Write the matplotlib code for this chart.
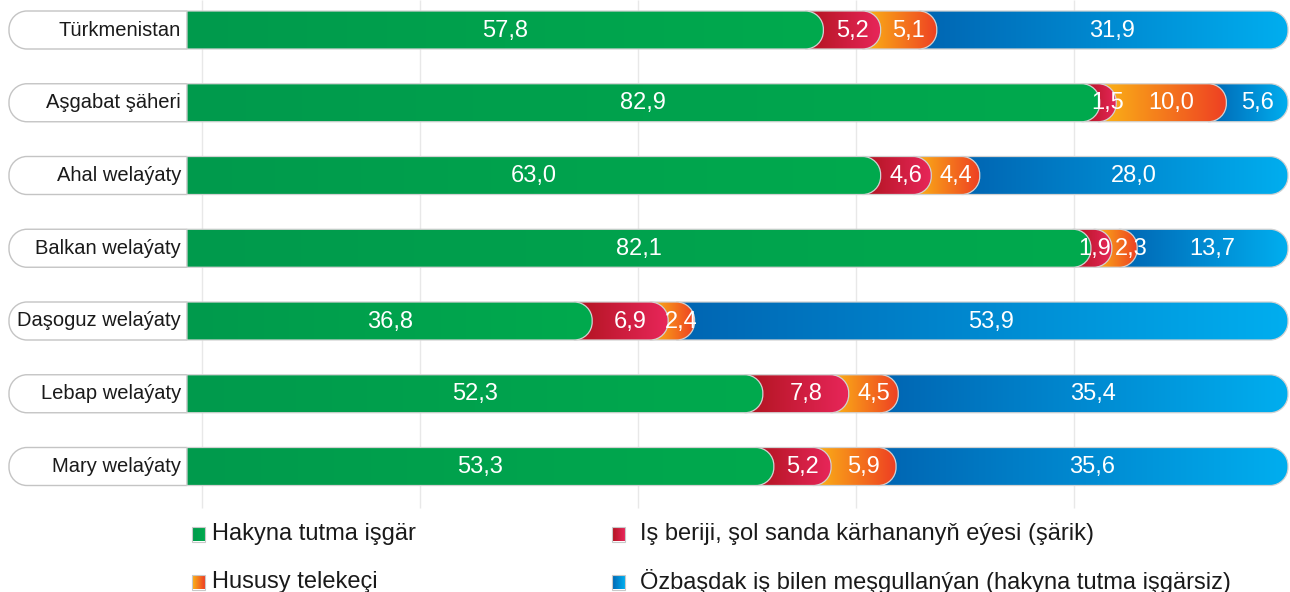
import numpy as np
import matplotlib
matplotlib.use("Agg")
import matplotlib.pyplot as plt
from matplotlib.path import Path
from matplotlib.patches import PathPatch
from matplotlib.colors import LinearSegmentedColormap

plt.rcParams['font.family'] = ['Liberation Sans', 'DejaVu Sans']

# data
regions = ["Türkmenistan", "Aşgabat şäheri", "Ahal welaýaty", "Balkan welaýaty",
           "Daşoguz welaýaty", "Lebap welaýaty", "Mary welaýaty"]
hakyna = [57.8, 82.9, 63.0, 82.1, 36.8, 52.3, 53.3]
is_berij = [5.2, 1.5, 4.6, 1.9, 6.9, 7.8, 5.2]
hususy = [5.1, 10.0, 4.4, 2.3, 2.4, 4.5, 5.9]
ozbasdak = [31.9, 5.6, 28.0, 13.7, 53.9, 35.4, 35.6]
legend_names = ["Hakyna tutma işgär", "Iş beriji, şol sanda kärhananyň eýesi (şärik)",
                "Hususy telekeçi", "Özbaşdak iş bilen meşgullanýan (hakyna tutma işgärsiz)"]

series = [hakyna, is_berij, hususy, ozbasdak]
# gradient colours (left -> right) for each series
grads = [("#009a4c", "#00aa4e"), ("#b0141f", "#e8265a"),
         ("#fbb616", "#ee3f23"), ("#0065b2", "#00aeef")]

PX_X = 11.01   # pixels per percent
PX_Y = 72.75   # pixels per row
H = 38 / PX_Y
RX = 18 / PX_X
RY = 18 / PX_Y
MIN_GAP = 3.3  # min distance between neighbouring value labels (percent units)


def rounded(x0, x1, yc, h, rx, ry, left=False):
    k = 0.5523
    top, bot = yc - h / 2, yc + h / 2
    verts = [(x0, top), (x1 - rx, top), (x1 - rx + k * rx, top), (x1, top + ry - k * ry),
             (x1, top + ry), (x1, bot - ry), (x1, bot - ry + k * ry), (x1 - rx + k * rx, bot),
             (x1 - rx, bot), (x0, bot), (x0, top)]
    codes = [Path.MOVETO, Path.LINETO, Path.CURVE4, Path.CURVE4, Path.CURVE4, Path.LINETO,
             Path.CURVE4, Path.CURVE4, Path.CURVE4, Path.LINETO, Path.CLOSEPOLY]
    if left:
        verts = [(x0 + x1 - x, y) for x, y in verts]
    return Path(verts, codes)


gradient = np.linspace(0, 1, 256).reshape(1, -1)
cmaps = [LinearSegmentedColormap.from_list("g%d" % i, g) for i, g in enumerate(grads)]

fig = plt.figure(figsize=(12.9, 5.92), dpi=100)
ax = fig.add_axes([0, 0, 1, 1])
ax.axis('off')

# light vertical grid
grid_x = np.arange(15 / PX_X, 100, 19.8)
ax.vlines(grid_x, -30 / PX_Y, (508 - 30) / PX_Y, color="#e8e8e8", lw=1, zorder=0)

for i, name in enumerate(regions):
    # label box
    box = PathPatch(rounded(-178 / PX_X, 0, i, H, RX, RY, left=True),
                    facecolor="white", edgecolor="#c4c4c4", lw=1, zorder=2)
    ax.add_patch(box)
    ax.text(-6 / PX_X, i, name, ha="right", va="center", fontsize=14.5, color="#1a1a1a", zorder=3)

    vals = [s[i] for s in series]
    starts = np.concatenate([[0], np.cumsum(vals)[:-1]])
    for j in range(3, -1, -1):
        x0 = starts[j]
        x1 = starts[j] + vals[j]
        left = 0 if j == 0 else x0 - RX
        z = 4 + 2 * (3 - j)
        patch = PathPatch(rounded(left, x1, i, H, RX, RY), facecolor="none",
                          edgecolor="#d2d2d2", lw=0.9, zorder=z + 0.1)
        ax.add_patch(patch)
        im = ax.imshow(gradient, cmap=cmaps[j], extent=[left, x1, i + H / 2, i - H / 2],
                       aspect="auto", interpolation="bilinear", zorder=z)
        im.set_clip_path(patch)

    # value labels, pushed apart when neighbours are too close
    lx = [starts[j] + vals[j] / 2 for j in range(4)]
    for j in range(1, 4):
        gap = lx[j] - lx[j - 1]
        if gap < MIN_GAP:
            lx[j - 1] -= (MIN_GAP - gap) / 2
            lx[j] += (MIN_GAP - gap) / 2
    for j in range(4):
        ax.text(lx[j], i + 0.01, f"{vals[j]:.1f}".replace(".", ","),
                ha="center", va="center", fontsize=17, color="white", zorder=20)

# legend
leg_x = [5 / PX_X, 425 / PX_X]
leg_y = [(534 - 30) / PX_Y, (582 - 30) / PX_Y]
for k in range(4):
    col, row = k % 2, k // 2
    mx, my = leg_x[col], leg_y[row]
    w, h = 13 / PX_X, 15 / PX_Y
    rect = PathPatch(Path([(mx, my - h / 2), (mx + w, my - h / 2), (mx + w, my + h / 2),
                           (mx, my + h / 2), (mx, my - h / 2)]),
                     facecolor="none", edgecolor="#c8c8c8", lw=0.8, zorder=6)
    ax.add_patch(rect)
    im = ax.imshow(gradient, cmap=cmaps[k], extent=[mx, mx + w, my + h / 2, my - h / 2],
                   aspect="auto", interpolation="bilinear", zorder=5)
    im.set_clip_path(rect)
    tx = mx + (20 if col == 0 else 28) / PX_X
    ax.text(tx, my, legend_names[k], ha="left", va="center", fontsize=17, color="#1a1a1a")

ax.set_xlim(-187 / PX_X, 100 + 2 / PX_X)
ax.set_ylim((592 - 30) / PX_Y, -30 / PX_Y)

fig.savefig("out.png", dpi=100)
